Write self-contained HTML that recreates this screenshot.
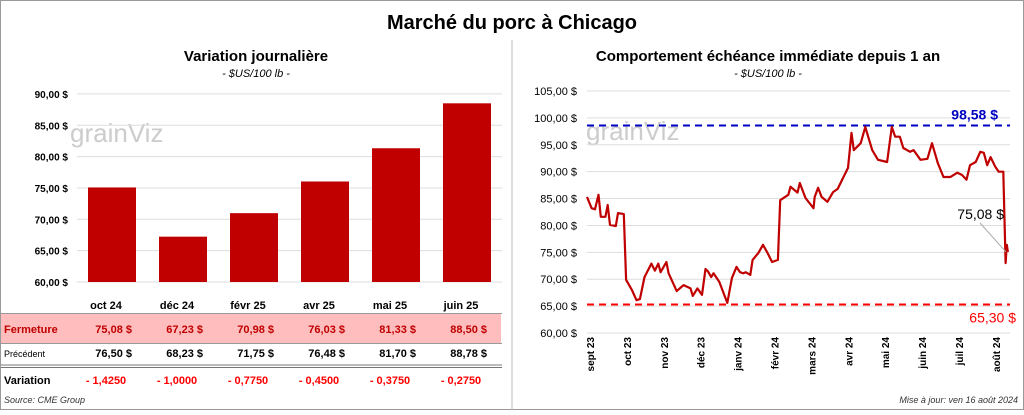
<!DOCTYPE html>
<html><head><meta charset="utf-8"><style>
body{margin:0;width:1024px;height:410px;overflow:hidden;background:#fff;font-family:"Liberation Sans",sans-serif}
svg text{font-family:"Liberation Sans",sans-serif}
</style></head><body>
<svg id="c" width="1024" height="410" viewBox="0 0 1024 410">
<rect x="0.5" y="0.5" width="1023" height="409" fill="#fff" stroke="#999"/>
<line x1="512" y1="40" x2="512" y2="410" stroke="#bbb"/>
<text x="512" y="29" text-anchor="middle" font-size="20" font-weight="bold">Marché du porc à Chicago</text>
<text x="256" y="61" text-anchor="middle" font-size="15" font-weight="bold">Variation  journalière</text>
<text x="256" y="77" text-anchor="middle" font-size="11" font-style="italic">- $US/100 lb -</text>
<text x="768" y="61" text-anchor="middle" font-size="15" font-weight="bold">Comportement  échéance immédiate depuis 1 an</text>
<text x="768" y="77" text-anchor="middle" font-size="11" font-style="italic">- $US/100 lb -</text>
<text x="70" y="142" font-size="26" fill="#ccc">grainViz</text>
<text x="586" y="140" font-size="26" fill="#ccc">grainViz</text>
<g id="left"></g><g id="right"></g><g id="table"></g>
<text x="4" y="403" font-size="9" font-style="italic" fill="#333">Source: CME Group</text>
<text x="1018" y="403" text-anchor="end" font-size="9" font-style="italic" fill="#333">Mise à jour: ven 16 août 2024</text>
</svg>
<script>
const months=["oct 24","déc 24","févr 25","avr 25","mai 25","juin 25"];
const closes=[75.08,67.23,70.98,76.03,81.33,88.50];
const prevs=[76.50,68.23,71.75,76.48,81.70,88.78];
const changes=["- 1,4250","- 1,0000","- 0,7750","- 0,4500","- 0,3750","- 0,2750"];
const leftTicks=[60,65,70,75,80,85,90];
const days=[0,4,7,10,12,16,18,20,25,27,32,34,39,43,46,50,56,59,62,64,69,71,78,84,90,92,96,100,103,105,108,110,115,122,126,130,133,136,138,142,144,149,153,157,161,166,168,175,177,183,185,190,197,198,201,204,209,214,218,223,227,230,232,238,242,248,253,261,265,268,272,275,281,284,290,296,300,305,310,316,322,326,330,333,338,342,345,348,351,355,358,362,364,365,366];
const prices=[85.3,83.2,83.0,85.7,81.6,81.6,83.8,80.1,79.9,82.3,82.1,69.9,68.0,66.1,66.3,70.4,72.9,71.6,72.9,71.3,73.2,71.1,67.8,68.9,68.3,66.9,68.3,67.1,71.9,71.5,70.4,71.1,69.5,65.6,70.2,72.3,71.3,71.1,71.3,70.8,73.6,74.9,76.4,74.9,73.2,73.6,84.7,85.7,87.2,86.1,87.9,85.1,83.2,85.3,87.0,85.3,84.4,86.2,86.8,89.0,90.7,97.2,94.0,95.3,98.3,94.0,92.2,91.8,98.3,96.5,96.5,94.4,93.7,94.0,92.2,92.4,95.3,91.6,89.0,89.0,89.8,89.4,88.5,91.2,91.8,93.7,93.5,91.2,92.7,90.9,90.0,90.0,73.0,76.4,75.08];
const rightTicks=[60,65,70,75,80,85,90,95,100,105];
const monthLabels=["sept 23","oct 23","nov 23","déc 23","janv 24","févr 24","mars 24","avr 24","mai 24","juin 24","juil 24","août 24"];
const high=98.58, low=65.30, last=75.08;
const NS="http://www.w3.org/2000/svg";
function mk(p,t,a,txt){const e=document.createElementNS(NS,t);for(const k in a)e.setAttribute(k,a[k]);if(txt!==undefined)e.textContent=txt;p.appendChild(e);return e;}
const fmt=v=>v.toFixed(2).replace('.',',');
// left chart
const L=document.getElementById('left');
const ly=v=>282-(v-60)*6.27;
const bx=i=>112+i*71;
leftTicks.forEach(t=>{
 let g=mk(L,'line',{x1:77,x2:502,y1:ly(t),y2:ly(t),stroke:'#ddd'});
 
 
 let l=mk(L,'text',{x:68,y:ly(t)+4,'text-anchor':'end','font-size':10,'font-weight':'bold'},fmt(t)+' $');
 
 
});
closes.forEach((v,i)=>{
 let r=mk(L,'rect',{x:bx(i)-24,y:ly(v),width:48,height:ly(60)-ly(v),fill:'#c00000'});
 
 
});
// table
const T=document.getElementById('table');
let pk=mk(T,'rect',{x:1,y:314,width:500,height:29,fill:'#ffbdbd'});


[[1,313.5,'#999'],[1,343.5,'#999'],[1,365,'#777'],[1,367.5,'#777']].forEach(a=>{
 let l=mk(T,'line',{x1:1,x2:502,y1:a[1],y2:a[1],stroke:a[2],'stroke-width':a[0]});
 
 
});
let h1=mk(T,'text',{x:4,y:333,'font-size':11,'font-weight':'bold',fill:'#c00000'},'Fermeture');

let h2=mk(T,'text',{x:4,y:357,'font-size':9},'Précédent');

let h3=mk(T,'text',{x:4,y:384,'font-size':11,'font-weight':'bold'},'Variation');

months.forEach((m,i)=>{
 let a=mk(T,'text',{x:bx(i)-6,y:309,'text-anchor':'middle','font-size':11,'font-weight':'bold'},m);
 
 let b=mk(T,'text',{x:bx(i)+20,y:333,'text-anchor':'end','font-size':11,'font-weight':'bold',fill:'#c00000'},fmt(closes[i])+'  $');
 b.setAttribute('xml:space','preserve');
 
 let c=mk(T,'text',{x:bx(i)+20,y:357,'text-anchor':'end','font-size':11,'font-weight':'bold'},fmt(prevs[i])+'  $');
 
 let d=mk(T,'text',{x:bx(i)-6,y:384,'text-anchor':'middle','font-size':11,'font-weight':'bold',fill:'#f00'},changes[i]);
 
});
// right chart
const R=document.getElementById('right');
const ry=v=>333-(v-60)*5.378;
const rx=d=>587+d*1.15;
rightTicks.forEach(t=>{
 let g=mk(R,'line',{x1:587,x2:1010,y1:ry(t),y2:ry(t),stroke:'#ddd'});
 
 let l=mk(R,'text',{x:577,y:ry(t)+4,'text-anchor':'end','font-size':11},fmt(t)+' $');
 
});
monthLabels.forEach((m,i)=>{
 const x=590+i*36.9;
 let l=mk(R,'text',{x:x+4,y:337,'text-anchor':'end','font-size':10,'font-weight':'bold',transform:`rotate(-90 ${x+4} 337)`},m);
 
});
let hl=mk(R,'line',{x1:587,x2:1010,y1:ry(high),y2:ry(high),stroke:'#0000c0','stroke-width':2,'stroke-dasharray':'7,5'});

let ll=mk(R,'line',{x1:587,x2:1010,y1:ry(low),y2:ry(low),stroke:'#f00','stroke-width':2,'stroke-dasharray':'7,5'});

let pts=days.map((d,i)=>rx(d).toFixed(1)+','+ry(prices[i]).toFixed(1)).join(' ');
let pl=mk(R,'polyline',{points:pts,fill:'none',stroke:'#c00000','stroke-width':2.2,'stroke-linejoin':'round'});

let ht=mk(R,'text',{x:998,y:ry(high)-6,'text-anchor':'end','font-size':14,'font-weight':'bold',fill:'#0000c0'},fmt(high)+' $');

let lt=mk(R,'text',{x:1016,y:ry(low)+18,'text-anchor':'end','font-size':14,fill:'#f00'},fmt(low)+' $');

let ct=mk(R,'text',{x:1004,y:219,'text-anchor':'end','font-size':14,fill:'#000'},fmt(last)+' $');

let cl=mk(R,'line',{x1:980,y1:223,x2:1006,y2:ry(last),stroke:'#aaa'});

</script>
</body></html>
